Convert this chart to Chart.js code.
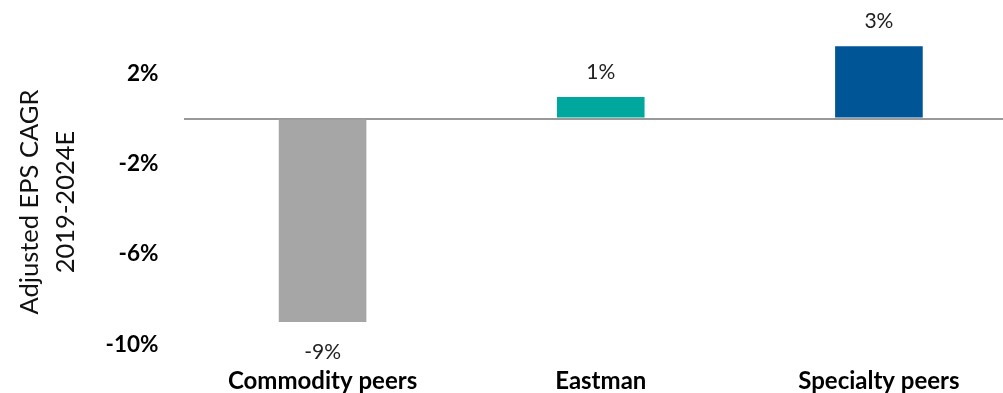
<!DOCTYPE html>
<html>
<head>
<meta charset="utf-8">
<script src="https://cdn.jsdelivr.net/npm/chart.js@4"></script>
<style>
  html, body { margin: 0; padding: 0; background: #fff; overflow: hidden; }
  #wrap { position: relative; width: 1020px; height: 393px; }
</style>
</head>
<body>
<div id="wrap"><canvas id="bar-chart"></canvas></div>
<script>
const categories = ['Commodity peers', 'Eastman', 'Specialty peers'];
const epsCagr = [-9.0, 0.95, 3.2];
const valueLabels = ['-9%', '1%', '3%'];
const barColors = ['#a6a6a6', '#00a79d', '#005596'];
const yTicks = [-10, -6, -2, 0, 2];
const yTitle = ['Adjusted EPS CAGR', '2019-2024E'];

const FONT = 'Lato, sans-serif';

// value labels above / below each bar
const valueLabelPlugin = {
  id: 'valueLabels',
  afterDatasetsDraw(chart) {
    const ctx = chart.ctx;
    const meta = chart.getDatasetMeta(0);
    ctx.save();
    ctx.font = '21px ' + FONT;
    ctx.fillStyle = '#222';
    ctx.textAlign = 'center';
    ctx.textBaseline = 'middle';
    meta.data.forEach((bar, i) => {
      const v = epsCagr[i];
      const y = v >= 0 ? bar.y - 25 : bar.y + 30;
      ctx.fillText(valueLabels[i], bar.x, y);
    });
    ctx.restore();
  },
};

// two-line rotated axis title
const axisTitlePlugin = {
  id: 'axisTitle',
  afterDraw(chart) {
    const ctx = chart.ctx;
    ctx.save();
    ctx.font = '25.5px ' + FONT;
    ctx.fillStyle = '#111';
    ctx.textAlign = 'center';
    ctx.textBaseline = 'alphabetic';
    ctx.translate(0, 202);
    ctx.rotate(-Math.PI / 2);
    ctx.fillText(yTitle[0], 0, 38);
    ctx.fillText(yTitle[1], 0, 74);
    ctx.restore();
  },
};

const config = {
  type: 'bar',
  data: {
    labels: categories,
    datasets: [
      {
        data: epsCagr,
        backgroundColor: barColors,
        borderWidth: 0,
        barPercentage: 0.63,
        categoryPercentage: 0.5,
      },
    ],
  },
  options: {
    responsive: true,
    maintainAspectRatio: false,
    animation: false,
    layout: { padding: { top: 5.5, right: 2, left: 0, bottom: 0 } },
    plugins: {
      legend: { display: false },
      title: { display: false },
      tooltip: { enabled: false },
    },
    scales: {
      x: {
        afterFit(scale) {
          scale.height = 48.5;
          scale.paddingLeft = 0;
          scale.paddingRight = 0;
        },
        grid: { display: false, drawTicks: false },
        border: { display: false },
        ticks: {
          color: '#000',
          padding: 22,
          maxRotation: 0,
          font: { family: FONT, size: 24, weight: 'bold' },
        },
      },
      y: {
        min: -10,
        max: 5,
        afterBuildTicks(scale) {
          scale.ticks = yTicks.map((v) => ({ value: v }));
        },
        afterFit(scale) {
          scale.width = 183.5;
          scale.paddingTop = 0;
          scale.paddingBottom = 0;
        },
        grid: {
          drawTicks: false,
          lineWidth: 2,
          color: (c) => (c.tick && c.tick.value === 0 ? '#999' : 'rgba(0,0,0,0)'),
        },
        border: { display: false },
        ticks: {
          color: '#000',
          padding: 25,
          font: { family: FONT, size: 22.5, weight: 'bold' },
          callback: (v) => (v === 0 ? '' : v + '%'),
        },
      },
    },
  },
  plugins: [valueLabelPlugin, axisTitlePlugin],
};

new Chart(document.getElementById('bar-chart'), config);
</script>
</body>
</html>
